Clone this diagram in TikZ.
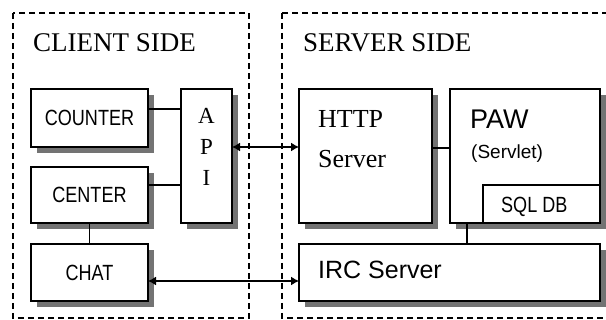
\documentclass[tikz,border=0pt]{standalone}
\usepackage{fontspec}
\setmainfont{Liberation Serif}
\newfontfamily\sansface{Liberation Sans}
\newfontfamily\boxface[FakeStretch=0.82]{Liberation Sans}
\usetikzlibrary{arrows.meta,shadows}

\begin{document}
\begin{tikzpicture}[x=1pt, y=-1pt,
  zone/.style={draw, dash pattern=on 6pt off 4pt, line width=1.3pt},
  cell/.style={rectangle, draw, fill=white, line width=1.5pt, inner sep=0pt, outer sep=0pt},
  block/.style={cell, drop shadow={shadow xshift=6pt, shadow yshift=-6pt, fill=black!55, opacity=1}},
  small/.style={font=\boxface\fontsize{22}{24}\selectfont},
  title/.style={anchor=base west, inner sep=0pt, font=\fontsize{27}{30}\selectfont},
  wire/.style={line width=1.1pt},
  msg/.style={{Latex[length=8pt,width=9pt]}-{Latex[length=8pt,width=9pt]}, line width=1.3pt}
]
  \clip (0,0) rectangle (606,320);
  \fill[white] (0,0) rectangle (606,320);

  % the two sides
  \draw[zone] (13,13) rectangle (249,318);
  \draw[zone] (282,13) rectangle (620,318);
  \node[title] (clienttitle) at (33,52) {CLIENT SIDE};
  \node[title] (servertitle) at (303,52) {SERVER SIDE};

  % client side
  \node[block, small, minimum width=117pt, minimum height=58pt] (counter) at (89.5,118) {COUNTER};
  \node[block, small, minimum width=117pt, minimum height=56pt] (center) at (89.5,195) {CENTER};
  \node[block, small, minimum width=117pt, minimum height=57pt] (chat) at (89.5,272.5) {CHAT};
  \node[block, minimum width=51pt, minimum height=134pt] (api) at (206.5,156) {};
  \node[align=center, inner sep=0pt, font=\fontsize{23}{31}\selectfont] (apitext)
    at ([yshift=9.5pt]api.center) {A\\P\\I};

  % server side
  \node[block, minimum width=133pt, minimum height=134pt] (http) at (365.5,156) {};
  \node[anchor=base west, inner sep=0pt, font=\fontsize{26}{28}\selectfont] (httptext) at (318,128) {HTTP};
  \node[anchor=base west, inner sep=0pt, font=\fontsize{26}{28}\selectfont] (httpsub) at (318,168) {Server};
  \node[block, minimum width=150pt, minimum height=134pt] (paw) at (525,156) {};
  \node[anchor=base west, inner sep=0pt, font=\sansface\fontsize{27}{29}\selectfont] (pawtext) at (470,129) {PAW};
  \node[anchor=base west, inner sep=0pt, font=\sansface\fontsize{19}{21}\selectfont] (pawsub) at (471,159) {(Servlet)};
  \node[cell, minimum width=117pt, minimum height=38pt] (sql) at (541.5,204) {};
  \node[anchor=base west, inner sep=0pt, small] (sqltext) at (501,213) {SQL DB};
  \node[block, minimum width=301pt, minimum height=57pt] (irc) at (449.5,272.5) {};
  \node[anchor=base west, inner sep=0pt, font=\sansface\fontsize{25}{27}\selectfont] (irctext) at (318,279) {IRC Server};

  % links
  \draw[wire] ([yshift=9pt]counter.east) -- ([yshift=47pt]api.west);
  \draw[wire] ([yshift=10pt]center.east) -- ([yshift=-29pt]api.west);
  \draw[wire] (center.south) -- (chat.north);
  \draw[wire] ([yshift=8pt]http.east) -- ([yshift=8pt]paw.west);
  \draw[wire] ([xshift=-58pt]paw.south) -- ([xshift=17.5pt]irc.north);
  \draw[msg] ([yshift=9pt]api.east) -- ([yshift=9pt]http.west);
  \draw[msg] ([yshift=-8.5pt]chat.east) -- ([yshift=-8.5pt]irc.west);
\end{tikzpicture}
\end{document}
